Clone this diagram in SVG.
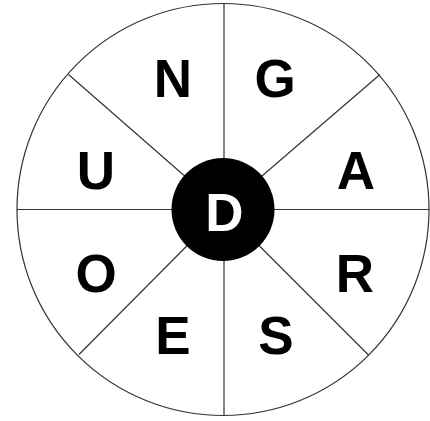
<svg xmlns="http://www.w3.org/2000/svg" width="430" height="421" viewBox="0 0 430 421">
<style>
.ln{stroke:#333;stroke-width:1.2;fill:none}
.t{font-family:"Liberation Sans",Arial,sans-serif;font-weight:bold;font-size:53px;text-anchor:middle;fill:#000}
</style>
<rect width="430" height="421" fill="#fff"/>
<g id="outer"><circle cx="223" cy="209.5" r="206" class="ln"/></g>
<g id="connectors">
<line x1="224" y1="3.5" x2="224" y2="415.5" class="ln"/>
<line x1="17" y1="209.5" x2="429" y2="209.5" class="ln"/>
<line x1="68.5" y1="74.5" x2="223" y2="209.5" class="ln"/>
<line x1="380" y1="74.5" x2="223" y2="209.5" class="ln"/>
<line x1="79" y1="354.5" x2="223" y2="209.5" class="ln"/>
<line x1="368.5" y1="355" x2="223" y2="209.5" class="ln"/>
</g>
<g id="center"><circle cx="223" cy="209.5" r="51.5" fill="#000"/><text class="t" x="224.5" y="231" style="fill:#fff">D</text></g>
<g id="N"><text class="t" x="173" y="97">N</text></g>
<g id="G"><text class="t" x="275" y="97">G</text></g>
<g id="U"><text class="t" x="96" y="189">U</text></g>
<g id="A"><text class="t" x="356" y="189">A</text></g>
<g id="O"><text class="t" x="96" y="292">O</text></g>
<g id="R"><text class="t" x="355" y="292">R</text></g>
<g id="E"><text class="t" x="173" y="354">E</text></g>
<g id="S"><text class="t" x="276" y="354">S</text></g>
</svg>
